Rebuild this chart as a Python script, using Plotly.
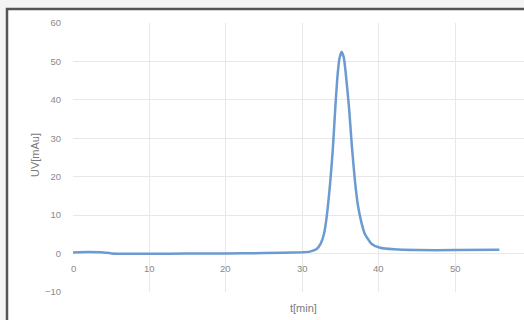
import plotly.graph_objects as go

# Data
t_min = [0, 2, 4, 5, 10, 15, 20, 25, 30, 31, 31.9, 32.4, 32.85, 33.2, 33.65, 34.0,
         34.34, 34.65, 34.9, 35.16, 35.45, 35.7, 36.12, 36.5, 36.9, 37.3, 37.7, 38.2,
         39.1, 40.2, 42, 45, 50, 55.8]
uv_mau = [0.3, 0.4, 0.3, 0.05, -0.05, 0.0, 0.0, 0.15, 0.35, 0.5, 1.2, 2.5, 5.1, 9.5,
          18.2, 26.9, 38.2, 46.9, 51.0, 52.5, 51.0, 46.9, 38.2, 28.0, 19.0, 12.5, 8.5,
          5.1, 2.5, 1.5, 1.1, 0.9, 0.9, 1.0]
x_ticks = [0, 10, 20, 30, 40, 50]
y_ticks = [-10, 0, 10, 20, 30, 40, 50, 60]

W, H = 524, 320
ML, MR, MT, MB = 73, 0, 23, 28
pw, ph = W - ML - MR, H - MT - MB
FONT = "Liberation Sans, Arial, sans-serif"

fig = go.Figure()
fig.add_trace(go.Scatter(
    x=t_min, y=uv_mau, mode="lines",
    line=dict(color="#6b9bd0", width=2.5, shape="spline", smoothing=0.5),
    showlegend=False, hoverinfo="skip"))

grid = "#e8e8e8"
fig.update_xaxes(range=[0, pw / 7.64], tickvals=x_ticks, showticklabels=False,
                 showgrid=True, gridcolor=grid, gridwidth=1, zeroline=False,
                 showline=False, fixedrange=True)
fig.update_yaxes(range=[-10, 60], tickvals=y_ticks, showgrid=True, gridcolor=grid,
                 gridwidth=1, zeroline=False, showline=False,
                 tickfont=dict(family=FONT, size=9.5, color="#8a8a8a"),
                 ticklabelstandoff=11, fixedrange=True)

annots = []
for v in x_ticks:
    annots.append(dict(x=v, y=0, xref="x", yref="y", text=str(v), showarrow=False,
                       yshift=-15, xanchor="center", yanchor="middle",
                       font=dict(family=FONT, size=9.5, color="#8a8a8a")))
annots.append(dict(x=(303 - ML) / pw, y=(H - MB - 308) / ph, xref="paper", yref="paper",
                   text="t[min]", showarrow=False, xanchor="center", yanchor="middle",
                   font=dict(family=FONT, size=11, color="#7a7a7a")))
annots.append(dict(x=(35 - ML) / pw, y=(H - MB - 155) / ph, xref="paper", yref="paper",
                   text="UV[mAu]", showarrow=False, textangle=-90, xanchor="center", yanchor="middle",
                   font=dict(family=FONT, size=11, color="#7a7a7a")))

shapes = [
    dict(type="rect", xref="paper", yref="paper",
         x0=(8 - ML) / pw, x1=1.3, y0=-0.3, y1=(H - MB - 10) / ph,
         line=dict(width=0), fillcolor="white", layer="below"),
    dict(type="rect", xref="paper", yref="paper",
         x0=(7 - ML) / pw, x1=1.3, y0=-0.3, y1=(H - MB - 9) / ph,
         line=dict(color="#555555", width=2.5), fillcolor="rgba(0,0,0,0)", layer="below"),
]

fig.update_layout(width=W, height=H, margin=dict(l=ML, r=MR, t=MT, b=MB),
                  paper_bgcolor="#f4f4f4", plot_bgcolor="white",
                  annotations=annots, shapes=shapes)

fig.write_html("out.html", config={"displayModeBar": False},
               post_script="document.body.style.margin='0';")
